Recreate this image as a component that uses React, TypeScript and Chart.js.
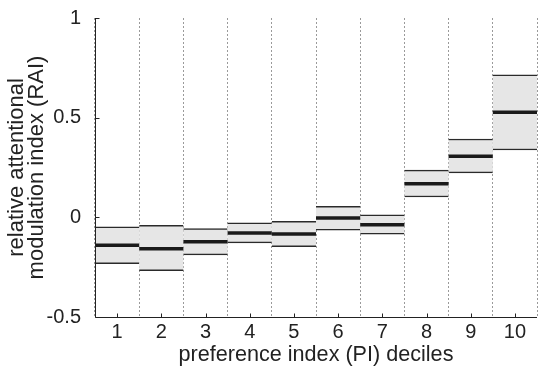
import React, { useEffect, useRef } from "react";
import { Chart, registerables } from "chart.js";

Chart.register(...registerables);

const deciles = ["1", "2", "3", "4", "5", "6", "7", "8", "9", "10"];
const lowerQuartile = [-0.232, -0.268, -0.188, -0.128, -0.147, -0.065, -0.085, 0.102, 0.223, 0.338];
const upperQuartile = [-0.048, -0.040, -0.057, -0.027, -0.020, 0.055, 0.012, 0.237, 0.393, 0.715];
const medians = [-0.140, -0.157, -0.123, -0.078, -0.083, -0.003, -0.037, 0.168, 0.307, 0.527];
const yTicks = [-0.5, 0, 0.5, 1];
const yTickLabels = ["-0.5", "0", "0.5", "1"];

const FONT = "'Liberation Sans', Arial, Helvetica, sans-serif";
const TEXT = "#222";

const overlayPlugin = {
  id: "overlay",
  afterDatasetsDraw(chart: any) {
    const { ctx } = chart;
    const xs = chart.scales.x;
    const ys = chart.scales.y;
    const half = xs.width / deciles.length / 2;
    ctx.save();
    ctx.strokeStyle = "#1a1a1a";
    ctx.lineWidth = 3.5;
    medians.forEach((m, i) => {
      const cx = xs.getPixelForValue(i);
      const y = ys.getPixelForValue(m);
      ctx.beginPath();
      ctx.moveTo(cx - half, y);
      ctx.lineTo(cx + half, y);
      ctx.stroke();
    });
    ctx.restore();
  },
  afterDraw(chart: any) {
    const { ctx } = chart;
    const xs = chart.scales.x;
    const ys = chart.scales.y;
    const area = chart.chartArea;
    ctx.save();
    ctx.strokeStyle = "#222";
    ctx.lineWidth = 1;
    const ax = Math.round(area.left) + 0.5;
    const by = Math.round(area.bottom) + 0.5;
    ctx.beginPath();
    ctx.moveTo(ax, Math.round(area.top));
    ctx.lineTo(ax, by);
    ctx.lineTo(Math.round(area.right), by);
    ctx.stroke();
    yTicks.forEach((v) => {
      const y = Math.round(ys.getPixelForValue(v)) + 0.5;
      ctx.beginPath();
      ctx.moveTo(ax, y);
      ctx.lineTo(ax + 4, y);
      ctx.stroke();
    });
    deciles.forEach((_, i) => {
      const x = Math.round(xs.getPixelForValue(i)) + 0.5;
      ctx.beginPath();
      ctx.moveTo(x, by);
      ctx.lineTo(x, by - 4);
      ctx.stroke();
    });
    ctx.restore();
  },
};

function RaiChart() {
  const ref = useRef<HTMLCanvasElement | null>(null);
  useEffect(() => {
    document.body.style.margin = "0";
    const canvas = ref.current;
    if (!canvas) return;
    const chart = new Chart(canvas, {
      type: "bar",
      data: {
        labels: deciles,
        datasets: [
          {
            label: "interquartile",
            data: deciles.map((_, i) => [lowerQuartile[i], upperQuartile[i]]) as any,
            backgroundColor: "#e6e6e6",
            borderColor: "#2a2a2a",
            borderWidth: { top: 1.5, bottom: 1.5, left: 0, right: 0 } as any,
            borderSkipped: false,
            categoryPercentage: 1,
            barPercentage: 1,
          },
        ],
      },
      options: {
        responsive: false,
        animation: false,
        layout: { padding: { top: 17, right: 2, left: 0, bottom: 0 } },
        plugins: {
          legend: { display: false },
          tooltip: { enabled: false },
        },
        scales: {
          x: {
            z: 1,
            offset: true,
            grid: {
              display: true,
              offset: true,
              color: "#9a9a9a",
              lineWidth: 1,
              drawTicks: false,
              tickLength: 0,
            },
            border: { display: false, dash: [2, 2] },
            ticks: {
              color: TEXT,
              padding: 3,
              font: { family: FONT, size: 20 },
              maxRotation: 0,
            },
            title: {
              display: true,
              text: "preference index (PI) deciles",
              color: TEXT,
              font: { family: FONT, size: 21.6, lineHeight: 1.2 },
              padding: { top: 0, bottom: 2.5 },
            },
            afterFit: (s: any) => {
              s.height = 54;
            },
          },
          y: {
            z: 2,
            min: -0.5,
            max: 1,
            afterBuildTicks: (s: any) => {
              s.ticks = yTicks.map((v) => ({ value: v }));
            },
            grid: { display: false },
            border: { display: false },
            ticks: {
              color: TEXT,
              padding: 6,
              font: { family: FONT, size: 20 },
              callback: (v: any) => {
                const idx = yTicks.indexOf(Number(v));
                return idx >= 0 ? yTickLabels[idx] : "";
              },
            },
            title: {
              display: true,
              text: ["relative attentional", "modulation index (RAI)"],
              color: TEXT,
              font: { family: FONT, size: 22, lineHeight: 0.91 },
              padding: { top: 6.5, bottom: 0 },
            },
            afterFit: (s: any) => {
              s.width = 95;
            },
          },
        },
      },
      plugins: [overlayPlugin],
    });
    return () => chart.destroy();
  }, []);
  return (
    <div style={{ width: 539, height: 371 }}>
      <canvas ref={ref} width={539} height={371} style={{ display: "block" }} />
    </div>
  );
}

export default function App() {
  return <RaiChart />;
}
